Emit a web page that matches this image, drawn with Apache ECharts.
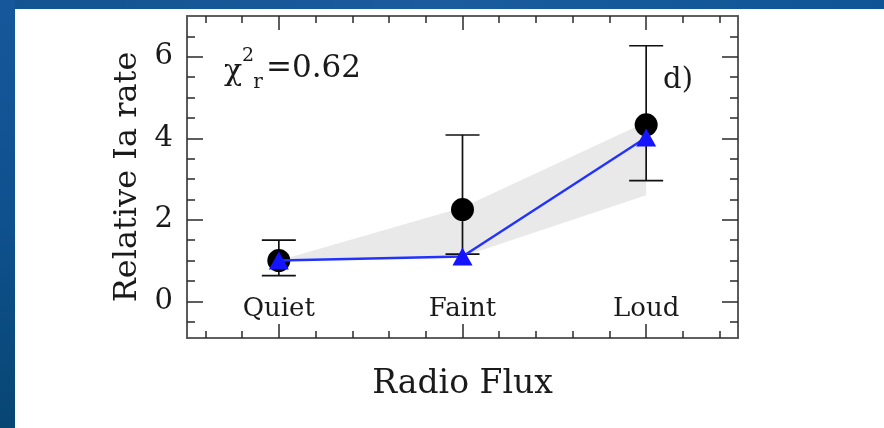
<!DOCTYPE html>
<html>
<head>
<meta charset="utf-8">
<script src="https://cdn.jsdelivr.net/npm/echarts@6/dist/echarts.min.js"></script>
<style>
  html, body { margin: 0; padding: 0; background: #ffffff; }
  #chart { width: 884px; height: 428px; }
</style>
</head>
<body>
<div id="chart"></div>
<script>
// Radio-flux classes and their positions on the x scale
const categories = ['Quiet', 'Faint', 'Loud'];
const categoryPos = [1, 2, 3];

// Measured relative Ia rate with asymmetric error bars
const observedRate = [1.0, 2.25, 4.33];
const errUpper = [1.5, 4.08, 6.27];
const errLower = [0.63, 1.16, 2.96];

// Model prediction and its uncertainty band
const modelRate = [1.0, 1.1, 4.02];
const bandUpper = [1.0, 2.3, 4.4];
const bandLower = [1.0, 1.1, 2.6];

// Tick positions
const xMajorTicks = [1, 2, 3];
const xMinorTicks = [0.6, 0.8, 1.2, 1.4, 1.6, 1.8, 2.2, 2.4, 2.6, 2.8, 3.2, 3.4];
const yMajorTicks = [0, 2, 4, 6];
const yMinorTicks = [-0.5, 0.5, 1, 1.5, 2.5, 3, 3.5, 4.5, 5, 5.5, 6.5];

const FONT = 'DejaVu Serif';
const INK = '#1a1a1a';
const FRAME = '#555555';
const TICK = '#2a2a2a';

function xAxis(position, ticks, len, labels, name) {
  return {
    type: 'value', min: 0.5, max: 3.5, position: position,
    name: name || '', nameLocation: 'middle', nameGap: 30,
    nameTextStyle: { fontFamily: FONT, fontSize: 33, color: INK },
    axisLine: { show: true, onZero: false, lineStyle: { color: FRAME, width: 1.6 } },
    axisTick: { show: true, inside: true, length: len, customValues: ticks,
                lineStyle: { color: TICK, width: 1.5 } },
    axisLabel: { show: !!labels, inside: true, margin: 16, customValues: ticks,
                 fontFamily: FONT, fontSize: 26, color: INK,
                 formatter: v => categories[categoryPos.indexOf(Math.round(v))] || '' },
    splitLine: { show: false }
  };
}

function yAxis(position, ticks, len, labels, name) {
  return {
    type: 'value', min: -0.9, max: 7, position: position,
    name: name || '', nameLocation: 'middle', nameGap: 41, nameRotate: 90,
    nameTextStyle: { fontFamily: FONT, fontSize: 32, color: INK },
    axisLine: { show: true, onZero: false, lineStyle: { color: FRAME, width: 1.6 } },
    axisTick: { show: true, inside: true, length: len, customValues: ticks,
                lineStyle: { color: TICK, width: 1.5 } },
    axisLabel: { show: !!labels, margin: 14, customValues: ticks,
                 fontFamily: FONT, fontSize: 29, color: INK },
    splitLine: { show: false }
  };
}

const chart = echarts.init(document.getElementById('chart'), null, { renderer: 'canvas' });

const option = {
  animation: false,
  backgroundColor: '#ffffff',
  grid: { left: 187, right: 146, top: 16, bottom: 90 },
  xAxis: [
    xAxis('bottom', xMajorTicks, 14, true, 'Radio Flux'),
    xAxis('bottom', xMinorTicks, 7, false),
    xAxis('top', xMajorTicks, 14, false),
    xAxis('top', xMinorTicks, 7, false)
  ],
  yAxis: [
    yAxis('left', yMajorTicks, 16, true, 'Relative Ia rate'),
    yAxis('left', yMinorTicks, 8, false),
    yAxis('right', yMajorTicks, 16, false),
    yAxis('right', yMinorTicks, 8, false)
  ],
  graphic: [
    { type: 'rect', left: 0, top: 0, z: 100, silent: true,
      shape: { width: 884, height: 9 },
      style: { fill: new echarts.graphic.LinearGradient(0, 0, 1, 0, [
        { offset: 0, color: '#125391' }, { offset: 0.5, color: '#1a5c9c' }, { offset: 1, color: '#0f5595' }]) } },
    { type: 'rect', left: 0, top: 0, z: 100, silent: true,
      shape: { width: 15, height: 428 },
      style: { fill: new echarts.graphic.LinearGradient(0, 0, 0, 1, [
        { offset: 0, color: '#15579a' }, { offset: 0.5, color: '#0f518f' }, { offset: 1, color: '#074673' }]) } },
    { type: 'text', x: 233, y: 72, z: 50,
      style: { text: 'χ', font: '30px "DejaVu Serif"', fill: INK, textAlign: 'center', textVerticalAlign: 'middle' } },
    { type: 'text', x: 248, y: 56, z: 50,
      style: { text: '2', font: '19px "DejaVu Serif"', fill: INK, textAlign: 'center', textVerticalAlign: 'middle' } },
    { type: 'text', x: 258, y: 83, z: 50,
      style: { text: 'r', font: '20px "DejaVu Serif"', fill: INK, textAlign: 'center', textVerticalAlign: 'middle' } },
    { type: 'text', x: 266, y: 69, z: 50,
      style: { text: '=0.62', font: '31px "DejaVu Serif"', fill: INK, textAlign: 'left', textVerticalAlign: 'middle' } },
    { type: 'text', x: 678, y: 80, z: 50,
      style: { text: 'd)', font: '29px "DejaVu Serif"', fill: INK, textAlign: 'center', textVerticalAlign: 'middle' } }
  ],
  series: [
    {
      // model uncertainty band
      type: 'custom', xAxisIndex: 0, yAxisIndex: 0, z: 1, silent: true,
      data: [[categoryPos[0], bandLower[0]]],
      renderItem: function (params, api) {
        const pts = [];
        for (let i = 0; i < categoryPos.length; i++) pts.push(api.coord([categoryPos[i], bandUpper[i]]));
        for (let i = categoryPos.length - 1; i >= 0; i--) pts.push(api.coord([categoryPos[i], bandLower[i]]));
        return { type: 'polygon', shape: { points: pts }, style: { fill: '#e9e9e9' } };
      }
    },
    {
      // error bars with caps
      type: 'custom', xAxisIndex: 0, yAxisIndex: 0, z: 2, silent: true,
      data: categoryPos.map((x, i) => [x, errLower[i], errUpper[i]]),
      renderItem: function (params, api) {
        const x = api.value(0);
        const lo = api.coord([x, api.value(1)]);
        const hi = api.coord([x, api.value(2)]);
        const half = 17;
        const st = { stroke: '#111111', lineWidth: 1.7 };
        return {
          type: 'group',
          children: [
            { type: 'line', shape: { x1: lo[0], y1: lo[1], x2: hi[0], y2: hi[1] }, style: st },
            { type: 'line', shape: { x1: lo[0] - half, y1: lo[1], x2: lo[0] + half, y2: lo[1] }, style: st },
            { type: 'line', shape: { x1: hi[0] - half, y1: hi[1], x2: hi[0] + half, y2: hi[1] }, style: st }
          ]
        };
      }
    },
    {
      type: 'scatter', xAxisIndex: 0, yAxisIndex: 0, z: 3, silent: true,
      symbol: 'circle', symbolSize: 23,
      itemStyle: { color: '#000000', opacity: 1 },
      data: categoryPos.map((x, i) => [x, observedRate[i]])
    },
    {
      type: 'line', xAxisIndex: 0, yAxisIndex: 0, z: 4, silent: true,
      symbol: 'triangle', symbolSize: [20, 18], showAllSymbol: true,
      lineStyle: { color: '#2233ff', width: 2.4 },
      itemStyle: { color: '#1414ff', opacity: 1 },
      data: categoryPos.map((x, i) => [x, modelRate[i]])
    }
  ]
};

chart.setOption(option);
</script>
</body>
</html>
